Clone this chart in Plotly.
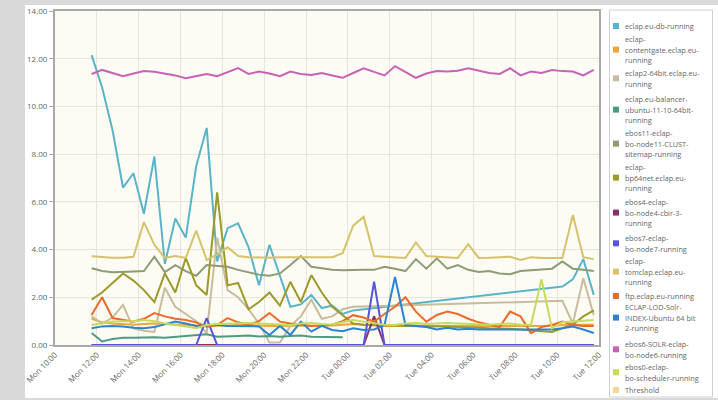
import plotly.graph_objects as go
import pandas as pd

times = pd.date_range("2012-01-09 11:45", periods=49, freq="30min")

series_names = [
    "eclap.eu-db-running",
    "eclap-<br>contentgate.eclap.eu-<br>running",
    "eclap2-64bit.eclap.eu-<br>running",
    "eclap.eu-balancer-<br>ubuntu-11-10-64bit-<br>running",
    "ebos11-eclap-<br>bo-node11-CLUST-<br>sitemap-running",
    "eclap-<br>bp64net.eclap.eu-<br>running",
    "ebos4-eclap-<br>bo-node4-cbir-3-<br>running",
    "ebos7-eclap-<br>bo-node7-running",
    "eclap-<br>tomclap.eclap.eu-<br>running",
    "ftp.eclap.eu-running",
    "ECLAP-LOD-Solr-<br>INDEX-Ubuntu 64 bit<br>2-running",
    "ebos6-SOLR-eclap-<br>bo-node6-running",
    "ebos0-eclap-<br>bo-scheduler-running",
    "Threshold",
]
colors = ["#5ab4c9", "#f2a33a", "#c9bc9c", "#4e9b84", "#8c9c74", "#9b9a2a",
          "#8b2f6b", "#5555dd", "#d6c26a", "#ec6a2a", "#2b84cf", "#c862b6",
          "#c4dc5a", "#f3d79a"]

N = None
db = [12.15, 10.8, 9.0, 6.6, 7.2, 5.5, 7.9, 3.4, 5.3, 4.5, 7.5, 9.1, 3.5, 4.9, 5.1,
      4.1, 2.5, 4.2, 2.9, 1.6, 1.7, 2.1, 1.55, 1.65, 1.3, 1.45,
      N, N, N, N, N, N, N, N, N, N, N, N, N, N, N, N, N, N, N,
      2.45, 2.75, 3.6, 2.1]
contentgate = [1.1, 0.95, 0.9, 0.88, 0.85, 0.88, 0.9, 0.88, 0.85, 0.85, 0.82, 0.8,
               0.8, 0.82, 0.85, 0.85, 0.82, 0.8, 0.8, 0.82, 0.82, 0.8, 0.8, 0.82,
               0.85, 0.88, 0.85, 0.82, 0.8, 0.8, 0.82, 0.82, 0.8, 0.8, 0.8, 0.8,
               0.78, 0.78, 0.8, 0.8, 0.78, 0.78, 0.8, 0.8, 0.82, 0.85, 0.85, 0.85, 0.85]
eclap2 = [1.2, 0.9, 1.15, 1.68, 0.7, 0.6, 0.55, 2.4, 1.6, 1.3, 1.0, 0.5, 4.5, 2.3,
          2.0, 1.5, 0.9, 0.1, 0.1, 0.8, 1.2, 1.9, 1.1, 1.2, 1.5, 1.6,
          N, N, N, N, N, N, N, N, N, N, N, N, N, N, N, N, N, N, N,
          1.85, 0.9, 2.8, 1.25]
balancer = [0.5, 0.15, 0.25, 0.3, 0.3, 0.32, 0.32, 0.3, 0.33, 0.38, 0.42, 0.45, 0.35,
            0.35, 0.38, 0.4, 0.36, 0.38, 0.35, 0.38, 0.4, 0.35, 0.35, 0.33, 0.32,
            N, N, N, N, N, N, N, N, N, N, N, N, N, N, N, N, N, N, N, N, N, N, N, N]
ebos11 = [3.22, 3.1, 3.05, 3.05, 3.08, 3.1, 3.7, 3.06, 3.35, 3.1, 2.9, 3.35, 3.3,
          3.28, 3.15, 3.05, 2.95, 2.9, 3.0, 3.35, 3.73, 3.28, 3.2, 3.15, 3.13, 3.15,
          3.15, 3.15, 3.28, 3.2, 3.1, 3.6, 3.2, 3.63, 3.2, 3.35, 3.15, 3.06, 3.1,
          3.0, 2.97, 3.1, 3.13, 3.15, 3.2, 3.5, 3.2, 3.15, 3.1]
bp64net = [1.9, 2.2, 2.6, 3.0, 2.7, 2.3, 1.8, 3.0, 2.2, 3.65, 2.5, 2.1, 6.4, 2.5,
           2.6, 1.5, 1.8, 2.2, 1.65, 2.65, 1.8, 2.93, 2.2, 1.6, 1.25, 0.9, 0.85,
           0.85, 0.85, 0.82, 0.8, 0.8, 0.8, 0.78, 0.78, 0.75, 0.75, 0.72, 0.7, 0.7,
           0.68, 0.65, 0.62, 0.6, 0.55, 0.7, 0.85, 1.2, 1.45]
ebos4 = [0.0] * 27 + [1.2] + [0.0] * 21
ebos7 = [0.0] * 11 + [1.13] + [0.0] * 15 + [2.65] + [0.0] * 21
tomclap = [3.72, 3.68, 3.66, 3.66, 3.7, 5.15, 4.2, 3.65, 3.73, 3.65, 4.8, 3.56, 3.8,
           4.1, 3.73, 3.68, 3.66, 3.66, 3.68, 3.68, 3.66, 3.66, 3.68, 3.68, 3.85, 5.0,
           5.37, 3.73, 3.7, 3.68, 3.65, 4.3, 3.73, 3.7, 3.68, 3.65, 4.23, 3.65, 3.66,
           3.68, 3.7, 3.56, 3.68, 3.65, 3.66, 3.65, 5.45, 3.68, 3.6]
ftp = [1.26, 2.0, 1.13, 1.05, 0.98, 1.1, 1.34, 1.2, 1.1, 1.05, 0.95, 0.77, 0.84,
       1.13, 0.95, 0.84, 1.0, 1.34, 0.98, 0.9, 0.85, 0.8, 0.82, 0.85, 1.0, 1.25,
       1.15, 0.98, 1.3, 1.6, 2.0, 1.4, 0.98, 1.26, 1.4, 1.3, 1.1, 0.95, 0.85, 0.75,
       1.4, 1.2, 0.5, 0.75, 0.84, 0.98, 0.85, 0.8, 0.8]
lod = [0.7, 0.78, 0.8, 0.78, 0.72, 0.7, 0.75, 0.85, 0.98, 0.9, 0.8, 0.82, 0.85, 0.8,
       0.8, 0.8, 0.78, 0.42, 0.8, 0.42, 0.98, 0.56, 0.8, 0.63, 0.58, 0.7, 0.63,
       0.65, 0.84, 2.85, 0.84, 0.8, 0.75, 0.65, 0.72, 0.65, 0.68, 0.65, 0.65, 0.62,
       0.63, 0.62, 0.62, 0.63, 0.65, 0.7, 0.77, 0.65, 0.5]
ebos6 = [11.36, 11.53, 11.4, 11.27, 11.38, 11.48, 11.45, 11.38, 11.3, 11.18, 11.27,
         11.36, 11.27, 11.45, 11.61, 11.36, 11.46, 11.38, 11.27, 11.46, 11.36, 11.32,
         11.4, 11.3, 11.2, 11.4, 11.6, 11.45, 11.3, 11.69, 11.45, 11.2, 11.38, 11.48,
         11.46, 11.5, 11.6, 11.5, 11.4, 11.36, 11.6, 11.3, 11.46, 11.4, 11.53, 11.48,
         11.46, 11.3, 11.53]
ebos0 = [0.84, 0.9, 0.98, 1.0, 1.0, 1.05, 1.0, 0.9, 0.85, 0.78, 0.7, 0.84, 0.88, 0.9,
         0.9, 0.92, 0.9, 0.88, 0.85, 0.84, 0.9, 0.92, 0.88, 0.86, 0.95, 1.05, 0.98,
         0.9, 0.85, 0.84, 0.9, 0.92, 0.88, 0.9, 0.92, 0.9, 0.88, 0.85, 0.85, 0.88,
         0.9, 0.85, 0.84, 2.75, 0.7, 0.95, 0.98, 1.0, 1.05]
threshold = []

values = [db, contentgate, eclap2, balancer, ebos11, bp64net, ebos4, ebos7,
          tomclap, ftp, lod, ebos6, ebos0, threshold]
connect = [True, False, True, False, False, False, False, False, False, False,
           False, False, False, False]

fig = go.Figure()
for name, col, vals, cg in zip(series_names, colors, values, connect):
    fig.add_trace(go.Scatter(x=times[:len(vals)], y=vals, mode="lines",
                             name=name.replace("<br>", ""),
                             line=dict(color=col, width=2), connectgaps=cg,
                             showlegend=False))

L, R, T, B = 55, 599, 11, 345
W, H = 718, 400
pw, ph = R - L, B - T
def px(x):
    return (x - L) / pw
def py(y):
    return (B - y) / ph

shapes = [
    dict(type="rect", xref="paper", yref="paper", x0=px(25), x1=px(720),
         y0=py(398), y1=py(5), fillcolor="white", line=dict(width=0), layer="below"),
    dict(type="rect", xref="paper", yref="paper", x0=0, x1=1, y0=0, y1=1,
         fillcolor="#fdfcf4", line=dict(width=0), layer="below"),
    # legend box
    dict(type="rect", xref="paper", yref="paper", x0=px(609.5), x1=px(712.5),
         y0=py(397), y1=py(10), fillcolor="white",
         line=dict(width=1, color="#d0d0d0"), layer="above"),
]
annotations = []
# legend: pixel y of the first text line of each entry, and line spacing
legend_first_line = [26, 39, 73, 99, 133, 167, 202, 238, 261, 296, 307, 344, 367, 390]
line_gap = 10.6
for name, col, y0 in zip(series_names, colors, legend_first_line):
    lines = name.split("<br>")
    yc = y0 + line_gap * (len(lines) - 1) / 2
    shapes.append(dict(type="rect", xref="paper", yref="paper",
                       x0=px(613), x1=px(619), y0=py(yc + 3), y1=py(yc - 3),
                       fillcolor=col, line=dict(width=0), layer="above"))
    for k, ln in enumerate(lines):
        annotations.append(dict(xref="paper", yref="paper", x=px(622.5),
                                y=py(y0 + k * line_gap),
                                xanchor="left", yanchor="middle", align="left",
                                text=ln, showarrow=False,
                                font=dict(size=7.3, color="#666")))

fig.update_layout(
    width=W, height=H,
    margin=dict(l=L, r=W - R, t=T, b=H - B, pad=0, autoexpand=False),
    paper_bgcolor="#d9d9d9",
    plot_bgcolor="rgba(0,0,0,0)",
    font=dict(family="Open Sans, Arial, sans-serif", size=8, color="#666"),
    shapes=shapes,
    annotations=annotations,
    showlegend=False,
    xaxis=dict(
        type="date", range=["2012-01-09 10:00", "2012-01-10 12:00"],
        tick0="2012-01-09 10:00", dtick=7200000, tickformat="%a %H:%M",
        tickangle=-45, showgrid=True, gridcolor="#e9e5da", gridwidth=1,
        showline=True, linecolor="#a9a9a9", linewidth=2, mirror=True,
        ticks="", tickfont=dict(size=8, color="#666"), zeroline=False,
        automargin=False,
    ),
    yaxis=dict(
        range=[0, 14], dtick=2, tickformat=".2f", showgrid=True,
        gridcolor="#e9e5da", gridwidth=1, showline=True, linecolor="#a9a9a9",
        linewidth=2, mirror=True, ticks="outside", ticklen=4, tickcolor="#a9a9a9",
        tickfont=dict(size=8, color="#666"), zeroline=False, automargin=False,
    ),
)

fig.write_html(
    "out.html",
    config={"displayModeBar": False},
    post_script="document.body.style.margin='0';document.body.style.background='#d9d9d9';",
)
